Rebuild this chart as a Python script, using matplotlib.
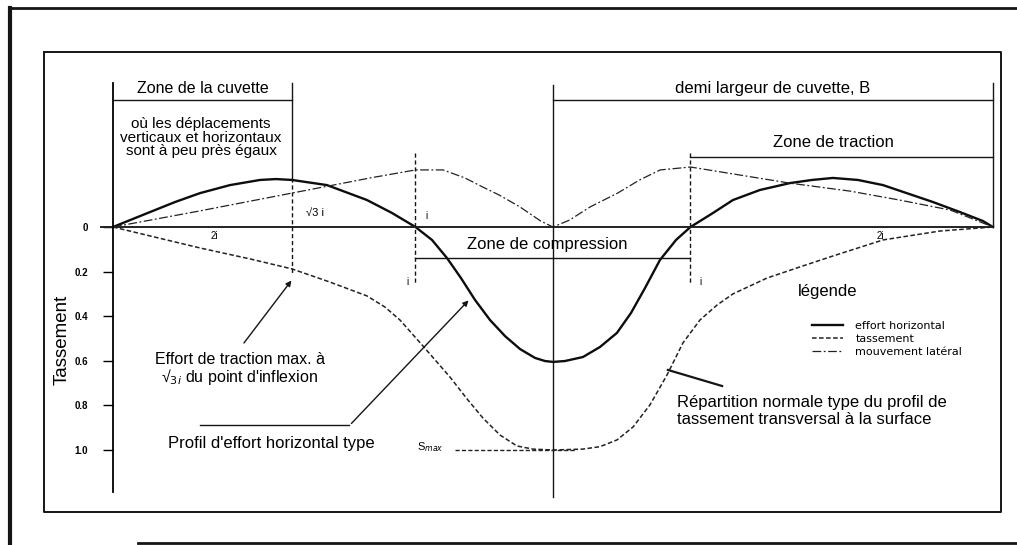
import matplotlib
matplotlib.use("Agg")
import matplotlib.pyplot as plt
from matplotlib.lines import Line2D

plt.rcParams['font.family'] = ['Liberation Sans', 'DejaVu Sans']

# abscisses en multiples de i (distance du point d'inflexion a l'axe de la cuvette)
B = 3.2        # demi largeur de cuvette
X_INFL = 1.0   # points d'inflexion
X_TMAX = 1.9   # effort de traction max

# effort horizontal (trait plein)
x_effort = [-3.20, -3.076, -2.931, -2.749, -2.567, -2.349, -2.131, -2.015, -1.898, -1.644,
            -1.353, -1.171, -1.00, -0.880, -0.771, -0.669, -0.567, -0.458, -0.349, -0.240,
            -0.131, -0.058, 0.00, 0.087, 0.218, 0.342, 0.465, 0.567, 0.669, 0.778,
            0.895, 1.00, 1.164, 1.309, 1.505, 1.724, 1.884, 2.036, 2.218, 2.40,
            2.764, 2.96, 3.127, 3.20]
y_effort = [0.0, -0.031, -0.067, -0.112, -0.152, -0.188, -0.211, -0.215, -0.211, -0.188,
            -0.121, -0.063, 0.0, 0.058, 0.139, 0.229, 0.327, 0.417, 0.489, 0.547,
            0.587, 0.601, 0.605, 0.601, 0.583, 0.538, 0.475, 0.386, 0.274, 0.148,
            0.058, 0.0, -0.063, -0.121, -0.166, -0.197, -0.211, -0.220, -0.211, -0.188,
            -0.112, -0.067, -0.027, 0.0]

# tassement (tirets)
x_tass = [-3.20, -2.931, -2.567, -2.204, -1.898, -1.622, -1.353, -1.222, -1.113, -0.945,
          -0.749, -0.625, -0.509, -0.385, -0.262, -0.145, 0.00, 0.218, 0.342, 0.465,
          0.582, 0.705, 0.829, 0.945, 1.069, 1.193, 1.309, 1.556, 1.796, 2.036,
          2.40, 2.815, 3.20]
y_tass = [0.0, 0.040, 0.094, 0.143, 0.188, 0.247, 0.309, 0.359, 0.417, 0.534,
          0.673, 0.771, 0.857, 0.933, 0.982, 0.996, 1.0, 0.996, 0.985, 0.955,
          0.897, 0.798, 0.664, 0.520, 0.417, 0.350, 0.300, 0.229, 0.179, 0.130,
          0.058, 0.018, 0.0]

# mouvement lateral (trait mixte)
x_lat = [-3.20, -2.57, -1.90, -1.33, -1.00, -0.80, -0.64, -0.51, -0.39, -0.24,
         -0.09, 0.00, 0.12, 0.27, 0.47, 0.63, 0.78, 1.00, 1.36, 1.72,
         2.16, 2.52, 2.89, 3.20]
y_lat = [0.0, -0.072, -0.152, -0.220, -0.256, -0.256, -0.220, -0.179, -0.143, -0.090,
         -0.027, 0.0, -0.031, -0.090, -0.152, -0.211, -0.256, -0.269, -0.233, -0.197,
         -0.161, -0.121, -0.076, 0.0]

yticks = [0, 0.2, 0.4, 0.6, 0.8, 1.0]
ytick_labels = ['0', '0.2', '0.4', '0.6', '0.8', '1.0']

fig = plt.figure(figsize=(10.17, 5.45), dpi=100)
ax = fig.add_axes([0, 0, 1, 1])
ax.set_xlim(-4.022, 3.375)
ax.set_ylim(1.426, -1.018)

for s in ['top', 'right', 'bottom']:
    ax.spines[s].set_visible(False)
ax.spines['left'].set_position(('data', -B))
ax.spines['left'].set_bounds(-0.646, 1.19)
ax.spines['left'].set_linewidth(1.3)
ax.set_xticks([])
ax.set_yticks(yticks, ytick_labels)
ax.tick_params(axis='y', direction='out', length=7, width=1, pad=11, labelsize=7)
for lab in ax.get_yticklabels():
    lab.set_fontweight('bold')

ink = '#151515'
k = dict(color=ink, lw=1.0)

# cadres
def frame(xs, ys, lw):
    ax.add_line(Line2D(xs, ys, transform=ax.transAxes, color=ink, lw=lw))

frame([0.0433, 0.984, 0.984, 0.0433, 0.0433], [0.9046, 0.9046, 0.0606, 0.0606, 0.9046], 1.4)
frame([0.0098, 0.0098], [0.0, 0.985], 3.0)
frame([0.0098, 1.0], [0.985, 0.985], 2.0)
frame([0.136, 1.0], [0.0037, 0.0037], 2.0)

# courbes
ax.plot(x_effort, y_effort, color='#0d0d0d', lw=1.7, solid_joinstyle='round',
        label='effort horizontal')
ax.plot(x_tass, y_tass, color='#222222', lw=1.1, ls=(0, (3, 1.6)), label='tassement')
ax.plot(x_lat, y_lat, color='#222222', lw=0.9, ls=(0, (7, 2, 1.5, 2)),
        label='mouvement latéral')

# axe horizontal et axe de la cuvette
ax.plot([-3.29, B], [0, 0], color='#222222', lw=1.4)
ax.plot([0, 0], [-0.637, 1.21], **k)

# zone de la cuvette
ax.plot([-B, -X_TMAX], [-0.57, -0.57], **k)
ax.plot([-X_TMAX, -X_TMAX], [-0.646, -0.22], **k)
ax.plot([-X_TMAX, -X_TMAX], [-0.22, 0.21], ls=(0, (3, 2)), **k)

# demi largeur et zone de traction
ax.plot([0, B], [-0.57, -0.57], **k)
ax.plot([B, B], [-0.646, 0], **k)
ax.plot([X_INFL, B], [-0.314, -0.314], **k)

# points d'inflexion et zone de compression
for xi in (-X_INFL, X_INFL):
    ax.plot([xi, xi], [-0.33, 0.26], ls=(0, (3, 2)), **k)
ax.plot([-X_INFL, X_INFL], [0.139, 0.139], **k)

# niveau du tassement max
ax.plot([-0.71, 0.16], [1.0, 1.0], color='#222222', lw=1.0, ls=(0, (3, 1.6)))

ax.text(-2.55, -0.62, 'Zone de la cuvette', ha='center', va='center', fontsize=11.5)
ax.text(-2.56, -0.40, "où les déplacements\nverticaux et horizontaux\nsont à peu près égaux",
        ha='center', va='center', fontsize=11, linespacing=0.95)
ax.text(1.6, -0.623, 'demi largeur de cuvette, B', ha='center', va='center', fontsize=12)
ax.text(2.04, -0.377, 'Zone de traction', ha='center', va='center', fontsize=12)
ax.text(-0.04, 0.08, 'Zone de compression', ha='center', va='center', fontsize=12)

ax.text(-1.73, -0.063, '√3 i', ha='center', va='center', fontsize=8)
ax.text(-2.46, 0.04, '2i', ha='center', va='center', fontsize=7)
ax.text(2.38, 0.04, '2i', ha='center', va='center', fontsize=7)
ax.text(-0.92, -0.05, 'i', ha='center', va='center', fontsize=7)
ax.text(-1.06, 0.247, 'i', ha='center', va='center', fontsize=7)
ax.text(1.07, 0.247, 'i', ha='center', va='center', fontsize=7)
ax.text(-0.895, 0.987, 'S$_{max}$', ha='center', va='center', fontsize=8)

ax.text(-3.57, 0.507, 'Tassement', rotation=90, ha='center', va='center', fontsize=13.5)

# renvois
arrow = dict(arrowstyle='-|>', color=ink, lw=1.0, mutation_scale=8)
ax.annotate('', xy=(-1.89, 0.23), xytext=(-2.26, 0.53), arrowprops=arrow)
ax.text(-2.28, 0.637, "Effort de traction max. à\n√$_{3i}$ du point d'inflexion",
        ha='center', va='center', fontsize=11.5, linespacing=1.0)

ax.plot([-2.57, -1.48], [0.89, 0.89], **k)
ax.annotate('', xy=(-0.60, 0.32), xytext=(-1.48, 0.89), arrowprops=arrow)
ax.text(-2.05, 0.97, "Profil d'effort horizontal type", ha='center', va='center', fontsize=12)

ax.plot([1.23, 0.836], [0.713, 0.641], color=ink, lw=1.6)
ax.text(0.90, 0.825, "Répartition normale type du profil de\ntassement transversal à la surface",
        ha='left', va='center', fontsize=12)

# legende
ax.text(1.78, 0.29, 'légende', ha='left', va='center', fontsize=12)
ax.legend(loc='upper left', bbox_to_anchor=(1.884, 0.42), bbox_transform=ax.transData,
          frameon=False, handlelength=2.8, handletextpad=1.1,
          labelspacing=0.3, borderpad=0, borderaxespad=0,
          prop={'family': 'DejaVu Sans', 'size': 8})

fig.savefig('out.png', dpi=100)
